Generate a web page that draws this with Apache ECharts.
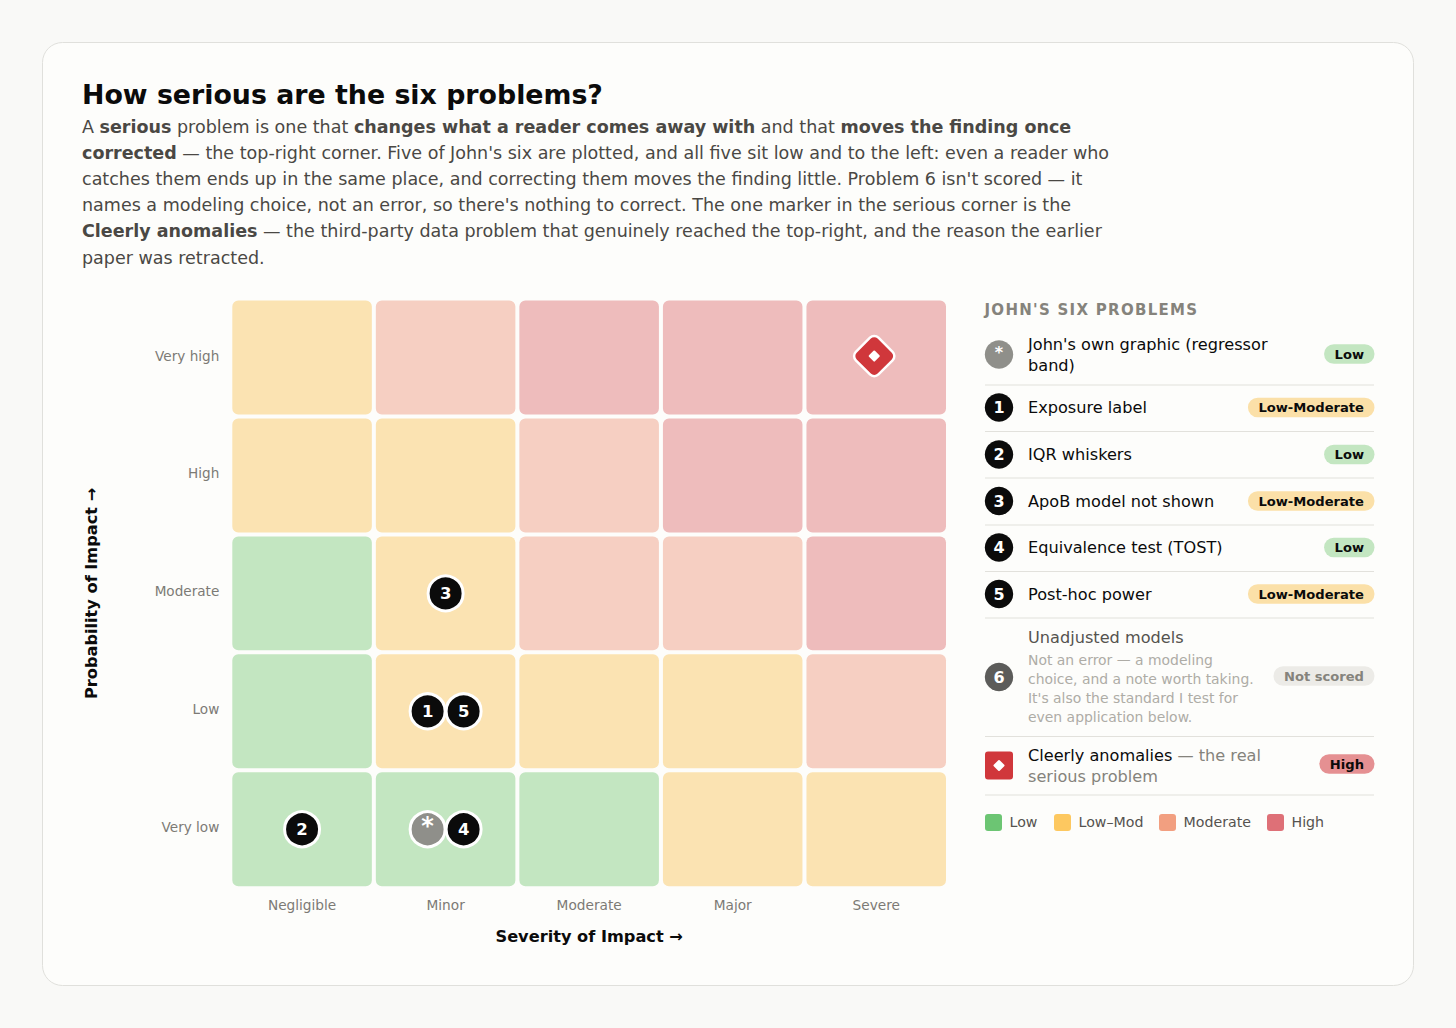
<!DOCTYPE html>
<html><head><meta charset="utf-8">
<script src="https://cdn.jsdelivr.net/npm/echarts@6/dist/echarts.min.js"></script>
<style>html,body{margin:0;padding:0;background:#f9f9f7}#c{width:1456px;height:1028px}</style>
</head><body><div id="c"></div>
<script>
const severityLabels = ['Negligible','Minor','Moderate','Major','Severe'];
const probabilityLabels = ['Very low','Low','Moderate','High','Very high'];
// rows run from Very low to Very high; 0 Low, 1 Low-Mod, 2 Moderate, 3 High
const riskVeryLow  = [0,0,0,1,1];
const riskLow      = [0,1,1,1,2];
const riskModerate = [0,1,2,2,3];
const riskHigh     = [1,1,2,3,3];
const riskVeryHigh = [1,2,3,3,3];
const riskRows = [riskVeryLow,riskLow,riskModerate,riskHigh,riskVeryHigh];
const markerNames = ['*','1','2','3','4','5'];
const markerSeverity = ['Minor','Minor','Negligible','Minor','Minor','Minor'];
const markerProbability = ['Very low','Low','Very low','Moderate','Very low','Low'];
const anomalySeverity = 'Severe';
const anomalyProbability = 'Very high';
const titleText = 'How serious are the six problems?';
const paragraphLines = [
 'A {b|serious} problem is one that {b|changes what a reader comes away with} and that {b|moves the finding once}',
 '{b|corrected} — the top-right corner. Five of John\'s six are plotted, and all five sit low and to the left: even a reader who',
 'catches them ends up in the same place, and correcting them moves the finding little. Problem 6 isn\'t scored — it',
 'names a modeling choice, not an error, so there\'s nothing to correct. The one marker in the serious corner is the',
 '{b|Cleerly anomalies} — the third-party data problem that genuinely reached the top-right, and the reason the earlier',
 'paper was retracted.'];
const panelTitle = "JOHN'S SIX PROBLEMS";
const problemIcons = ['*','1','2','3','4','5'];
const problemNames = [["John's own graphic (regressor",'band)'],['Exposure label'],['IQR whiskers'],['ApoB model not shown'],['Equivalence test (TOST)'],['Post-hoc power']];
const problemBadges = ['Low','Low-Moderate','Low','Low-Moderate','Low','Low-Moderate'];
const note6Name = 'Unadjusted models';
const note6Lines = ['Not an error — a modeling','choice, and a note worth taking.',"It's also the standard I test for",'even application below.'];
const legendNames = ['Low','Low–Mod','Moderate','High'];

const cellColors = ['#c3e6c1','#fbe3b2','#f6cfc2','#eebcbc'];
const swatchColors = ['#6cc573','#fdc860','#f29f80','#de7077'];
const badgeColors = {'Low':'#c3e6c1','Low-Moderate':'#fbe0a8','High':'#e59092','Not scored':'#ecebe7'};
const FAM = 'DejaVu Sans';

const cellData = [];
riskRows.forEach((row,y)=>row.forEach((lvl,x)=>cellData.push([x,y,lvl])));

// markers sharing a cell are spread side by side
const groups = {};
markerNames.forEach((n,i)=>{const k=markerSeverity[i]+'|'+markerProbability[i];(groups[k]=groups[k]||[]).push(i);});
const markerData = markerNames.map((n,i)=>{
  const grp = groups[markerSeverity[i]+'|'+markerProbability[i]];
  const off = (grp.indexOf(i)-(grp.length-1)/2)*36;
  const star = n==='*';
  return {value:[markerSeverity[i],markerProbability[i]],symbolOffset:[off,0],
    itemStyle:{color:star?'#8f8f8a':'#0b0b0b'},
    label:{formatter:n,offset:[0,star?-3:0],fontSize:star?24:16.5}};
});

const g = [];
g.push({type:'rect',z:-10,silent:true,shape:{x:42.5,y:42.5,width:1371,height:943,r:20},style:{fill:'#fdfdfb',stroke:'#e0e0dc',lineWidth:1}});
const txt=(text,x,y,size,fill,weight,extra)=>({type:'text',x,y,silent:true,style:Object.assign({text,fill,fontFamily:FAM,fontSize:size,fontWeight:weight||'normal',verticalAlign:'middle',align:'left'},extra||{})});
g.push(txt(titleText,82,94,26.8,'#0b0b0b','bold'));
paragraphLines.forEach((l,i)=>{
  g.push({type:'text',x:82,y:126.5+i*26.2,silent:true,style:{text:l,fill:'#4a4844',fontFamily:FAM,fontSize:17.52,verticalAlign:'middle',
    rich:{b:{fontFamily:FAM,fontWeight:'bold',fontSize:17.52,fill:'#4a4844'}}}});
});
g.push(txt(panelTitle,984.5,309.5,15,'#85837c','bold'));
const badge=(t,y)=>({type:'text',x:1374.5,y,silent:true,style:{text:t,fontFamily:FAM,fontWeight:'bold',fontSize:13.1,fill:t==='Not scored'?'#85837c':'#0b0b0b',align:'right',verticalAlign:'middle',
   backgroundColor:badgeColors[t],borderRadius:10,padding:[3,10.5,3,10.5],lineHeight:13.5}});
const icon=(t,y,fill,fs,dy)=>[
  {type:'circle',silent:true,shape:{cx:999,cy:y,r:14.2},style:{fill}},
  txt(t,999,y+(dy||0),fs||16,'#fff','bold',{align:'center'})];
const rowY=[354.5,407.5,454.5,501,547.5,594];
const sepY=[385,431.5,478,525,571.5,618,736.5,795];
sepY.forEach(y=>g.push({type:'line',silent:true,shape:{x1:985,y1:y,x2:1374,y2:y},style:{stroke:'#e2e1dc',lineWidth:1.2}}));
problemNames.forEach((ls,i)=>{
  const y=rowY[i];
  g.push(...icon(problemIcons[i],y,i?'#0b0b0b':'#8f8f8a',16,i?0:-2));
  ls.forEach((s,j)=>g.push(txt(s,1028,y+(ls.length>1?(j-0.5)*21:0),16.15,'#0b0b0b')));
  g.push(badge(problemBadges[i],i?y:354));
});
// row 6
g.push(...icon('6',677,'#5c5c5a',16));
g.push(txt(note6Name,1028,637,16.15,'#55534f'));
note6Lines.forEach((s,i)=>g.push(txt(s,1028,660+i*18.9,13.93,'#aeaca6')));
g.push(badge('Not scored',676));
// Cleerly
g.push({type:'rect',silent:true,shape:{x:985,y:751.5,width:28,height:28,r:3},style:{fill:'#d0373b'}});
g.push({type:'rect',silent:true,x:999,y:765.5,originX:0,originY:0,rotation:Math.PI/4,shape:{x:-4.2,y:-4.2,width:8.4,height:8.4,r:1},style:{fill:'#fff'}});
g.push({type:'text',x:1028,y:755,silent:true,style:{text:'{a|Cleerly anomalies} — the real',fill:'#85837c',fontFamily:FAM,fontSize:16.15,verticalAlign:'middle',rich:{a:{fill:'#0b0b0b',fontFamily:FAM,fontSize:16.15}}}});
g.push(txt('serious problem',1028,776,16.15,'#85837c'));
g.push(badge('High',764));
// swatch legend
const lgX=[985,1054,1159,1267];
legendNames.forEach((n,i)=>{
  g.push({type:'rect',silent:true,shape:{x:lgX[i],y:814,width:17,height:17,r:3},style:{fill:swatchColors[i]}});
  g.push(txt(n,lgX[i]+24.5,822,14.2,'#55534f'));
});

const chart = echarts.init(document.getElementById('c'),null,{renderer:'svg',width:1456,height:1028});
chart.setOption({
  animation:false,
  textStyle:{fontFamily:FAM},
  grid:{left:230.3,top:298.6,width:717.7,height:589.6,containLabel:false},
  xAxis:{type:'category',data:severityLabels,name:'Severity of Impact →',nameLocation:'middle',nameGap:40.5,
    nameTextStyle:{fontFamily:FAM,fontWeight:'bold',fontSize:16.2,color:'#0b0b0b'},
    axisLine:{show:false},axisTick:{show:false},splitLine:{show:false},
    axisLabel:{color:'#7c7a75',fontSize:13.7,margin:9.5}},
  yAxis:{type:'category',data:probabilityLabels,name:'Probability of Impact →',nameLocation:'middle',nameGap:130.5,nameRotate:90,
    nameTextStyle:{fontFamily:FAM,fontWeight:'bold',fontSize:16.2,color:'#0b0b0b'},
    axisLine:{show:false},axisTick:{show:false},splitLine:{show:false},
    axisLabel:{color:'#7c7a75',fontSize:13.6,margin:11,verticalAlign:'bottom',lineHeight:4}},
  series:[
   {type:'custom',z:1,silent:true,data:cellData,encode:{x:0,y:1},
    renderItem(p,api){
      const c=api.coord([api.value(0),api.value(1)]),s=api.size([1,1]);
      return {type:'rect',shape:{x:c[0]-s[0]/2+2,y:c[1]-s[1]/2+2,width:s[0]-4,height:s[1]-4,r:6},
        style:{fill:cellColors[api.value(2)]}};
    }},
   {type:'scatter',z:3,silent:true,symbol:'circle',symbolSize:35,data:markerData,
    itemStyle:{borderColor:'#fff',borderWidth:3,opacity:1},
    label:{show:true,position:'inside',color:'#fff',fontWeight:'bold',fontFamily:FAM}},
   {type:'custom',z:4,silent:true,data:[[anomalySeverity,anomalyProbability]],encode:{x:0,y:1},
    renderItem(p,api){
      const c=api.coord([severityLabels.indexOf(anomalySeverity),probabilityLabels.indexOf(anomalyProbability)]);
      return {type:'group',children:[
        {type:'rect',x:c[0]-2,y:c[1]-1.5,originX:0,originY:0,rotation:Math.PI/4,shape:{x:-16,y:-16,width:32,height:32,r:6},style:{fill:'#d0373b',stroke:'#fff',lineWidth:2.5}},
        {type:'rect',x:c[0]-2,y:c[1]-1.5,originX:0,originY:0,rotation:Math.PI/4,shape:{x:-4.2,y:-4.2,width:8.4,height:8.4,r:1},style:{fill:'#fff'}}
      ]};
    }}
  ],
  graphic:{elements:g}
});
function spacing(){document.querySelectorAll('#c text').forEach(t=>{if(t.textContent===panelTitle)t.setAttribute('letter-spacing','1.28');});}
chart.on('finished',spacing);spacing();setTimeout(spacing,50);
</script></body></html>
